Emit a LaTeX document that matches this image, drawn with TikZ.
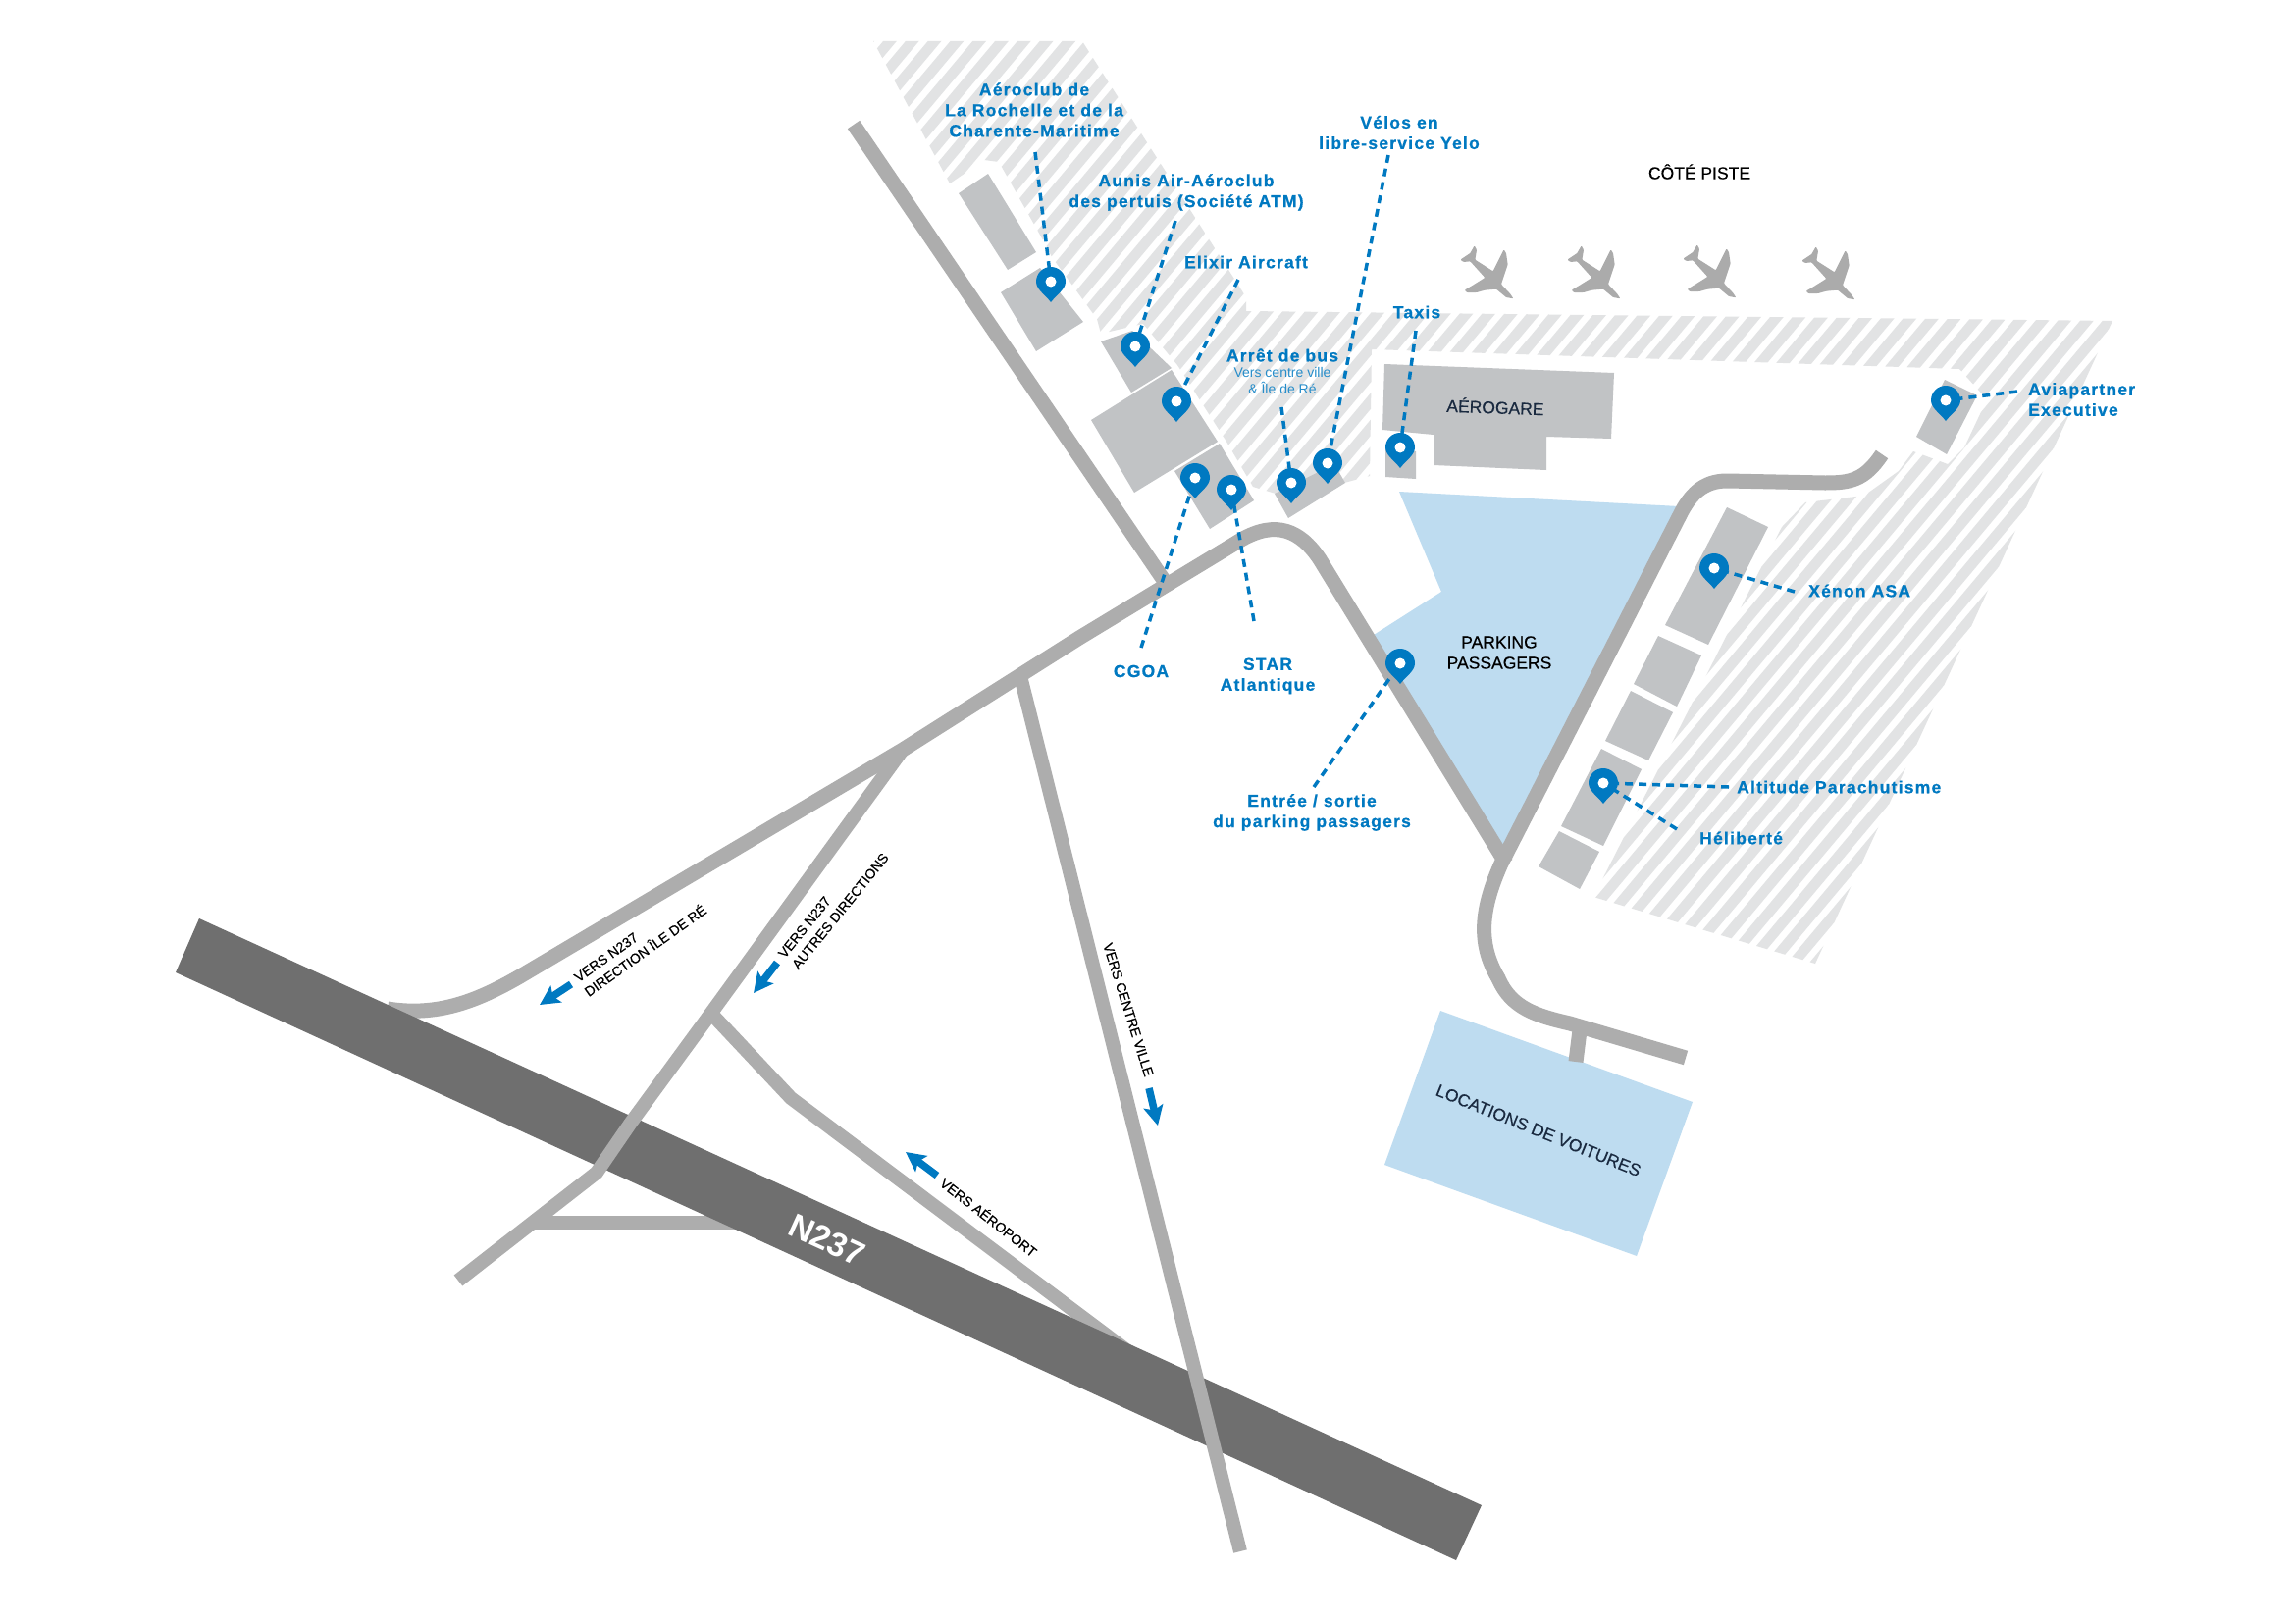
\documentclass[tikz,border=0pt]{standalone}
\usepackage{fontspec}
\setmainfont{Liberation Sans}
\newfontfamily\labfont[LetterSpace=7,BoldFont={Liberation Sans Bold},BoldFeatures={FakeBold=0.7}]{Liberation Sans}
\newfontfamily\medfont[FakeBold=0.35]{Liberation Sans}
\usetikzlibrary{arrows.meta}
\definecolor{roadc}{HTML}{ADADAD}
\definecolor{darkroad}{HTML}{6F6F6F}
\definecolor{bldg}{HTML}{C1C3C5}
\definecolor{lightblue}{HTML}{BEDCF0}
\definecolor{pinblue}{HTML}{0079C1}
\definecolor{hatchc}{HTML}{E2E3E4}
\definecolor{navy}{HTML}{1A2A40}
\definecolor{planec}{HTML}{ABABAB}
\tikzset{
  road/.style={draw=roadc,line width=15pt,line join=round},
  thinroad/.style={draw=roadc,line width=14pt,line join=round},
  building/.style={fill=bldg},
  zone/.style={fill=lightblue},
  label/.style={text=pinblue,inner sep=0pt,align=center,font=\labfont\bfseries\fontsize{17.5}{21}\selectfont},
  labelL/.style={label,align=left,anchor=west},
  sublabel/.style={text=pinblue!85,inner sep=0pt,align=center,font=\fontsize{14}{16.5}\selectfont},
  place/.style={text=navy,inner sep=0pt,align=center,font=\medfont\fontsize{17.5}{21}\selectfont},
  sign/.style={text=black,inner sep=0pt,font=\medfont\fontsize{14}{18}\selectfont},
  leader/.style={draw=pinblue,line width=3.5pt,dash pattern=on 8pt off 6pt},
  dirarrow/.style={draw=pinblue,line width=7.5pt,-{Stealth[width=20pt,length=20pt,inset=4pt]}},
  pinmark/.pic={
    \fill[pinblue] (-15,0) .. controls (-15,-8.3) and (-8.3,-15) .. (0,-15)
      .. controls (8.3,-15) and (15,-8.3) .. (15,0)
      .. controls (15,8) and (6,13) .. (0,21)
      .. controls (-6,13) and (-15,8) .. (-15,0) -- cycle;
    \fill[white] (0,0) circle[radius=5.5];
  },
  plane/.pic={
    \fill[planec,rounded corners=0.8pt,scale=0.3333,shift={(-105,145)}]
      (187,-66) -- (178,-80) -- (150,-110) -- (160,-140) -- (170,-170) -- (165,-205) -- (158,-216)
      -- (150,-200) -- (125,-150) -- (70,-185) -- (75,-215) -- (68,-228) -- (55,-205) -- (25,-185)
      -- (35,-178) -- (55,-180) -- (100,-130) -- (60,-105) -- (38,-92) -- (45,-85) -- (75,-85)
      -- (100,-92) -- (135,-95) -- (165,-70) -- cycle;
  },
}
\begin{document}
\begin{tikzpicture}[x=1pt,y=-1pt]
\useasboundingbox (0,0) rectangle (2339,1654);
\fill[white] (0,0) rectangle (2339,1654);

% hatched ground
\begin{scope}
\clip (890,42) -- (1103,42) -- (1270,303) -- (1270,317) -- (2153,327) -- (1850,982) -- (1624,914)
  -- (1816,537) -- (1840,512) -- (1900,505) -- (1935,480) -- (1950,460) -- (1985,473) -- (2002,456)
  -- (2025,407) -- (1997,376) -- (1398,356) -- (1396,485) -- (1370,492) -- (1300,503) -- (1277,496)
  -- (1250,450) -- (1200,372) -- (1165,330) -- (1122,340) -- (1118,325) -- (1072,262) -- (1066,250)
  -- (1018,165) -- (1003,163) -- (968,187) -- cycle;
\foreach \k in {0,...,80}
  \draw[hatchc,line width=10.5pt] ({79.4+22.8*\k},1000) -- ({919.4+22.8*\k},0);
\end{scope}

% blue zones
\fill[zone] (1426,501) -- (1711,516) -- (1533,865) -- (1400,647) -- (1469,603) -- cycle;
\fill[zone] (1468,1030) -- (1725,1123) -- (1668,1280) -- (1411,1187) -- cycle;

% buildings
\fill[building] (977,197) -- (1007,177) -- (1056,257) -- (1027,275) -- cycle;
\fill[building] (1020,298) -- (1060,273) -- (1104,328) -- (1056,358) -- cycle;
\fill[building] (1122,348) -- (1154,337) -- (1194,375) -- (1153,400) -- cycle;
\fill[building] (1112,428) -- (1194,377) -- (1241,450) -- (1156,502) -- cycle;
\fill[building] (1197,480) -- (1243,452) -- (1278,510) -- (1233,539) -- cycle;
\fill[building] (1299,503) -- (1360,473) -- (1371,492) -- (1313,528) -- cycle;
\fill[building] (1412,458) -- (1443,460) -- (1443,488) -- (1412,486) -- cycle;
\fill[building] (1411,371) -- (1645,380) -- (1642,447) -- (1576,445) -- (1576,479) -- (1461,474) -- (1461,443) -- (1409,438) -- cycle;
\fill[building] (1982,387) -- (2015,403) -- (1984,463) -- (1953,445) -- cycle;
\fill[building] (1760,517) -- (1802,537) -- (1741,657) -- (1697,637) -- cycle;
\fill[building] (1690,648) -- (1734,668) -- (1709,720) -- (1665,697) -- cycle;
\fill[building] (1662,704) -- (1705,726) -- (1680,775) -- (1636,755) -- cycle;
\fill[building] (1632,763) -- (1673,784) -- (1634,862) -- (1591,842) -- cycle;
\fill[building] (1589,847) -- (1630,868) -- (1610,906) -- (1568,883) -- cycle;

% roads under the N237
\draw[thinroad] (543,1246) -- (800,1246);
\draw[thinroad] (727,1035) -- (806,1119) -- (1180,1400);
\draw[road] (395,1028) .. controls (445,1036) and (485,1021) .. (530,995) -- (920,764) -- (1100,650) -- (1265,550)
  .. controls (1300,530) and (1325,540) .. (1345,570) -- (1535,880);

% N237
\fill[darkroad] (203,936) -- (1510,1534) -- (1484,1590) -- (179,991) -- cycle;
\node[inner sep=0pt,text=white,rotate=-24.5,font=\bfseries\fontsize{34}{34}\selectfont] (n237) at (843,1264) {N237};

% other roads
\draw[road] (870,127) -- (1192,600);
\draw[thinroad] (1040,689) -- (1264,1581);
\draw[thinroad] (920,764) -- (725,1032) -- (643,1144) -- (608,1195) -- (467,1305);
\draw[road] (1918,463) .. controls (1900,490) and (1885,492) .. (1860,492) -- (1760,490)
  .. controls (1735,490) and (1722,505) .. (1712,525) -- (1530,880)
  .. controls (1510,925) and (1505,960) .. (1527,997) .. controls (1540,1027) and (1565,1035) .. (1600,1043) -- (1718,1078);
\draw[road] (1610,1050) -- (1606,1082);

% planes
\pic at (1515,278) {plane};
\pic at (1624,278) {plane};
\pic at (1742,277) {plane};
\pic at (1863,279) {plane};

% place names
\node[place,text=black] (cote) at (1732,175) {CÔTÉ PISTE};
\node[place,rotate=-2] (aero) at (1524,414) {AÉROGARE};
\node[place,text=black] (park) at (1528,665) {PARKING\\PASSAGERS};
\node[place,rotate=-22] (loc) at (1568,1152) {LOCATIONS DE VOITURES};

% road signs
\node[sign,align=left,anchor=west,rotate=35.5] (s1) at (592,1005) {VERS N237\\DIRECTION ÎLE DE RÉ};
\node[sign,align=left,anchor=west,rotate=51] (s2) at (803,980) {VERS N237\\AUTRES DIRECTIONS};
\node[sign,rotate=-72.5] (s3) at (1150,1029) {VERS CENTRE VILLE};
\node[sign,rotate=-38] (s4) at (1008,1240) {VERS AÉROPORT};
\coordinate (a1s) at (582,1003); \coordinate (a1e) at (550,1024);
\coordinate (a2s) at (792,981);  \coordinate (a2e) at (768,1012);
\coordinate (a3s) at (1171,1109);\coordinate (a3e) at (1180,1147);
\coordinate (a4s) at (955,1198); \coordinate (a4e) at (923,1174);
\draw[dirarrow] (a1s) -- (a1e);
\draw[dirarrow] (a2s) -- (a2e);
\draw[dirarrow] (a3s) -- (a3e);
\draw[dirarrow] (a4s) -- (a4e);

% labels
\node[label] (lA) at (1054,112) {Aéroclub de\\La Rochelle et de la\\Charente-Maritime};
\node[label] (lB) at (1209,196) {Aunis Air-Aéroclub\\des pertuis (Société ATM)};
\node[label] (lC) at (1270,267) {Elixir Aircraft};
\node[label] (lD) at (1426,135) {Vélos en\\libre-service Yelo};
\node[label] (lE) at (1444,318) {Taxis};
\node[label] (lF) at (1307,362) {Arrêt de bus};
\node[sublabel] (lF2) at (1307,388) {Vers centre ville\\\& Île de Ré};
\node[label] (lG) at (1163,684) {CGOA};
\node[label] (lH) at (1292,689) {STAR\\Atlantique};
\node[label] (lI) at (1337,828) {Entrée / sortie\\du parking passagers};
\node[labelL] (lJ) at (2067,407) {Aviapartner\\Executive};
\node[labelL] (lK) at (1843,602) {Xénon ASA};
\node[labelL] (lL) at (1770,802) {Altitude Parachutisme};
\node[labelL] (lM) at (1732,854) {Héliberté};

% pins and leaders
\coordinate (pA) at (1071,287); \coordinate (eA) at (1055,155);
\coordinate (pB) at (1157,353); \coordinate (eB) at (1198,225);
\coordinate (pC) at (1199,409); \coordinate (eC) at (1262,285);
\coordinate (pD) at (1353,472); \coordinate (eD) at (1415,158);
\coordinate (pE) at (1427,456); \coordinate (eE) at (1443,337);
\coordinate (pF) at (1316,492); \coordinate (eF) at (1306,415);
\coordinate (pG) at (1218,487); \coordinate (eG) at (1163,660);
\coordinate (pH) at (1255,499); \coordinate (eH) at (1278,633);
\coordinate (pI) at (1427,676); \coordinate (eI) at (1339,802);
\coordinate (pJ) at (1983,408); \coordinate (eJ) at (2056,399);
\coordinate (pK) at (1747,579); \coordinate (eK) at (1829,603);
\coordinate (pL) at (1634,798); \coordinate (eL) at (1762,802);
\coordinate (eM) at (1709,845);
\draw[leader] (eA) -- (pA);
\draw[leader] (eB) -- (pB);
\draw[leader] (eC) -- (pC);
\draw[leader] (eD) -- (pD);
\draw[leader] (eE) -- (pE);
\draw[leader] (eF) -- (pF);
\draw[leader] (eG) -- (pG);
\draw[leader] (eH) -- (pH);
\draw[leader] (eI) -- (pI);
\draw[leader] (eJ) -- (pJ);
\draw[leader] (eK) -- (pK);
\draw[leader] (eL) -- (pL);
\draw[leader] (eM) -- (pL);
\foreach \p in {pA,pB,pC,pD,pE,pF,pG,pH,pI,pJ,pK,pL}
  \pic at (\p) {pinmark};
\end{tikzpicture}
\end{document}
